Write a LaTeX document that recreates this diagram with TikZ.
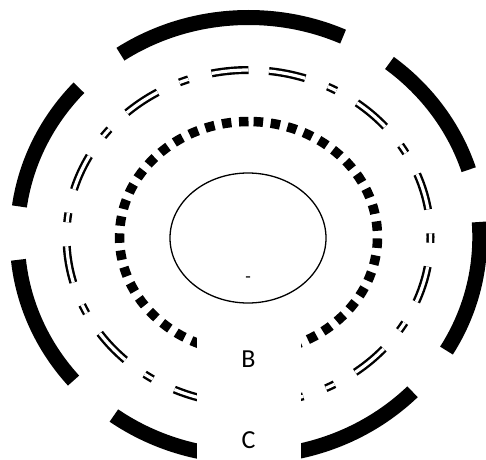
\documentclass[tikz,border=0pt]{standalone}
\usepackage{fontspec}
\setmainfont{Carlito}
\begin{document}
\begin{tikzpicture}[x=1pt,y=1pt,
  outerring/.style={line width=15pt, dash pattern=on 135pt off 53.5pt},
  doublering/.style={double, line width=2.4pt, double distance=3.2pt, dash pattern=on 37pt off 24pt on 9.5pt off 24pt},
  dotring/.style={line width=9.5pt, dash pattern=on 9.5pt off 7.64pt},
  innerring/.style={line width=1.3pt},
  cover/.style={fill=white, minimum width=104pt, minimum height=84pt, inner sep=0pt, font=\fontsize{26}{30}\selectfont},
  tinymark/.style={inner sep=0pt, anchor=base, font=\fontsize{18}{20}\selectfont}
]
\useasboundingbox (0,0) rectangle (486,459);
\coordinate (ctr) at (248.5,222);
\coordinate (ictr) at (248,221);
\draw[outerring] ([yshift=219.5pt]ctr) arc[start angle=90, end angle=450, x radius=231.3pt, y radius=219.5pt];
\draw[doublering] ([yshift=167pt]ctr) arc[start angle=90, end angle=450, x radius=182pt, y radius=167pt];
\draw[dotring] ([yshift=115.5pt]ctr) arc[start angle=90, end angle=450, x radius=129pt, y radius=115.5pt];
\draw[innerring] (ictr) ellipse[x radius=78pt, y radius=65pt];
\node[tinymark] (m) at (248,176.5) {-};
\node[cover] (B) at (248.5,100) {B};
\node[cover] (C) at (248.5,19) {C};
\end{tikzpicture}
\end{document}
